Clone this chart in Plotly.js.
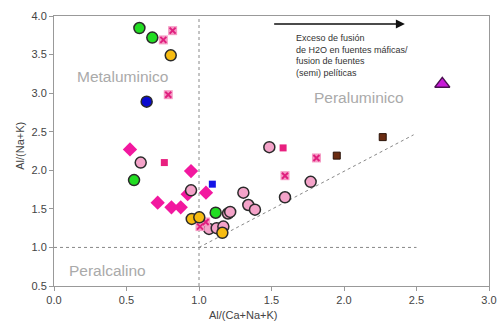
<!DOCTYPE html>
<html><head><meta charset="utf-8">
<script src="https://cdn.plot.ly/plotly-3.0.1.min.js"></script>
<style>html,body{margin:0;padding:0;background:#fff}#chart{width:497px;height:322px}</style>
</head><body><div id="chart"></div>
<script>
// Data
const greenX = [0.589, 0.678, 0.552, 1.115];
const greenY = [3.844, 3.72, 1.873, 1.45];
const blueCircX = [0.639];
const blueCircY = [2.89];
const pinkCircX = [0.598, 0.945, 1.20, 1.215, 1.069, 1.122, 1.168, 1.306, 1.34, 1.386, 1.593, 1.77, 1.485];
const pinkCircY = [2.10, 1.74, 1.44, 1.46, 1.24, 1.25, 1.27, 1.71, 1.55, 1.49, 1.65, 1.85, 2.30];
const orangeX = [0.805, 0.95, 1.002, 1.161];
const orangeY = [3.49, 1.37, 1.39, 1.19];
const diamondX = [0.524, 0.945, 0.922, 1.048, 0.715, 0.81, 0.874];
const diamondY = [2.27, 1.99, 1.69, 1.71, 1.58, 1.52, 1.52];
const crossX = [0.754, 0.818, 0.788, 1.593, 1.81, 1.007, 1.046];
const crossY = [3.69, 3.81, 2.98, 1.93, 2.16, 1.27, 1.33];
const magSqX = [0.761, 1.58];
const magSqY = [2.10, 2.29];
const blueSqX = [1.092];
const blueSqY = [1.82];
const brownSqX = [1.95, 2.267];
const brownSqY = [2.19, 2.43];
const triX = [2.678];
const triY = [3.12];
// Boundary lines
const vLineX = [1, 1], vLineY = [0.5, 4.0];
const hLineX = [0, 2.5], hLineY = [1, 1];
const dLineX = [1, 2.48], dLineY = [1, 2.46];

const dash = {color:'#888', width:1, dash:'3px,3px'};
const edge = {color:'#2a2a2a', width:1.5};
const traces = [
  {x:vLineX, y:vLineY, mode:'lines', line:dash},
  {x:hLineX, y:hLineY, mode:'lines', line:dash},
  {x:dLineX, y:dLineY, mode:'lines', line:dash},
  {x:diamondX, y:diamondY, mode:'markers', marker:{symbol:'diamond', size:11, color:'#f2189f', line:{width:0}}},
  {x:pinkCircX, y:pinkCircY, mode:'markers', marker:{symbol:'circle', size:11, color:'#f4a3c9', line:edge}},
  {x:crossX, y:crossY, mode:'markers', marker:{symbol:'square', size:9, color:'#f59ac4', line:{width:0}}},
  {x:crossX, y:crossY, mode:'markers', marker:{symbol:'x-thin-open', size:6, color:'#e0207f', line:{color:'#e0207f', width:2}}},
  {x:greenX, y:greenY, mode:'markers', marker:{symbol:'circle', size:11, color:'#22dd22', line:edge}},
  {x:orangeX, y:orangeY, mode:'markers', marker:{symbol:'circle', size:11, color:'#f7bc12', line:edge}},
  {x:blueCircX, y:blueCircY, mode:'markers', marker:{symbol:'circle', size:11, color:'#0a0ad0', line:edge}},
  {x:magSqX, y:magSqY, mode:'markers', marker:{symbol:'square', size:7, color:'#e8207f', line:{width:0}}},
  {x:blueSqX, y:blueSqY, mode:'markers', marker:{symbol:'square', size:7, color:'#1414e6', line:{width:0}}},
  {x:brownSqX, y:brownSqY, mode:'markers', marker:{symbol:'square', size:7, color:'#6b2c12', line:{color:'#2a1208', width:1}}},
  {x:triX, y:triY, mode:'markers', marker:{symbol:'triangle-up', size:13, color:'#c81ad8', line:{color:'#4a1050', width:1.5}}}
];

const ff = 'Arial, "Liberation Sans", sans-serif';
const layout = {
  width:497, height:322,
  margin:{l:54, r:8, t:16, b:36},
  paper_bgcolor:'#fff', plot_bgcolor:'#fff',
  showlegend:false,
  font:{family:ff, size:11, color:'#444'},
  xaxis:{range:[0,3], tickvals:[0,0.5,1,1.5,2,2.5,3], ticktext:['0.0','0.5','1.0','1.5','2.0','2.5','3.0'],
    showgrid:false, zeroline:false, showline:true, linecolor:'#999', linewidth:1, mirror:true,
    ticks:'outside', ticklen:4, tickcolor:'#999', tickfont:{size:11, color:'#444'}},
  yaxis:{range:[0.5,4], tickvals:[0.5,1,1.5,2,2.5,3,3.5,4], ticktext:['0.5','1.0','1.5','2.0','2.5','3.0','3.5','4.0'],
    showgrid:false, zeroline:false, showline:true, linecolor:'#999', linewidth:1, mirror:true,
    ticks:'outside', ticklen:4, tickcolor:'#999', tickfont:{size:11, color:'#444'}},
  annotations:[
    {xref:'paper', yref:'paper', x:-0.08, y:0.52, text:'Al/(Na+K)', textangle:-90, showarrow:false, font:{size:11, color:'#444'}, xanchor:'center', yanchor:'middle'},
    {xref:'paper', yref:'paper', x:0.435, y:-0.107, text:'Al/(Ca+Na+K)', showarrow:false, font:{size:11, color:'#444'}, xanchor:'center', yanchor:'middle'},
    {x:0.47, y:3.21, text:'Metaluminico', showarrow:false, font:{size:15.5, color:'#aaa'}},
    {x:2.10, y:2.95, text:'Peraluminico', showarrow:false, font:{size:15.5, color:'#aaa'}},
    {x:0.37, y:0.70, text:'Peralcalino', showarrow:false, font:{size:15.5, color:'#aaa'}},
    {x:1.655, y:3.81, xanchor:'left', yanchor:'top', align:'left', showarrow:false,
     text:'Exceso de fusión<br>de H2O en fuentes máficas/<br>fusion de fuentes<br>(semi) pelíticas', font:{size:9, color:'#333'}},
    {x:2.42, y:3.895, ax:1.508, ay:3.895, axref:'x', ayref:'y', text:'', showarrow:true, arrowhead:2, arrowsize:1.2, arrowwidth:1.5, arrowcolor:'#111'}
  ]
};
Plotly.newPlot('chart', traces, layout, {displayModeBar:false, staticPlot:true});
</script></body></html>
